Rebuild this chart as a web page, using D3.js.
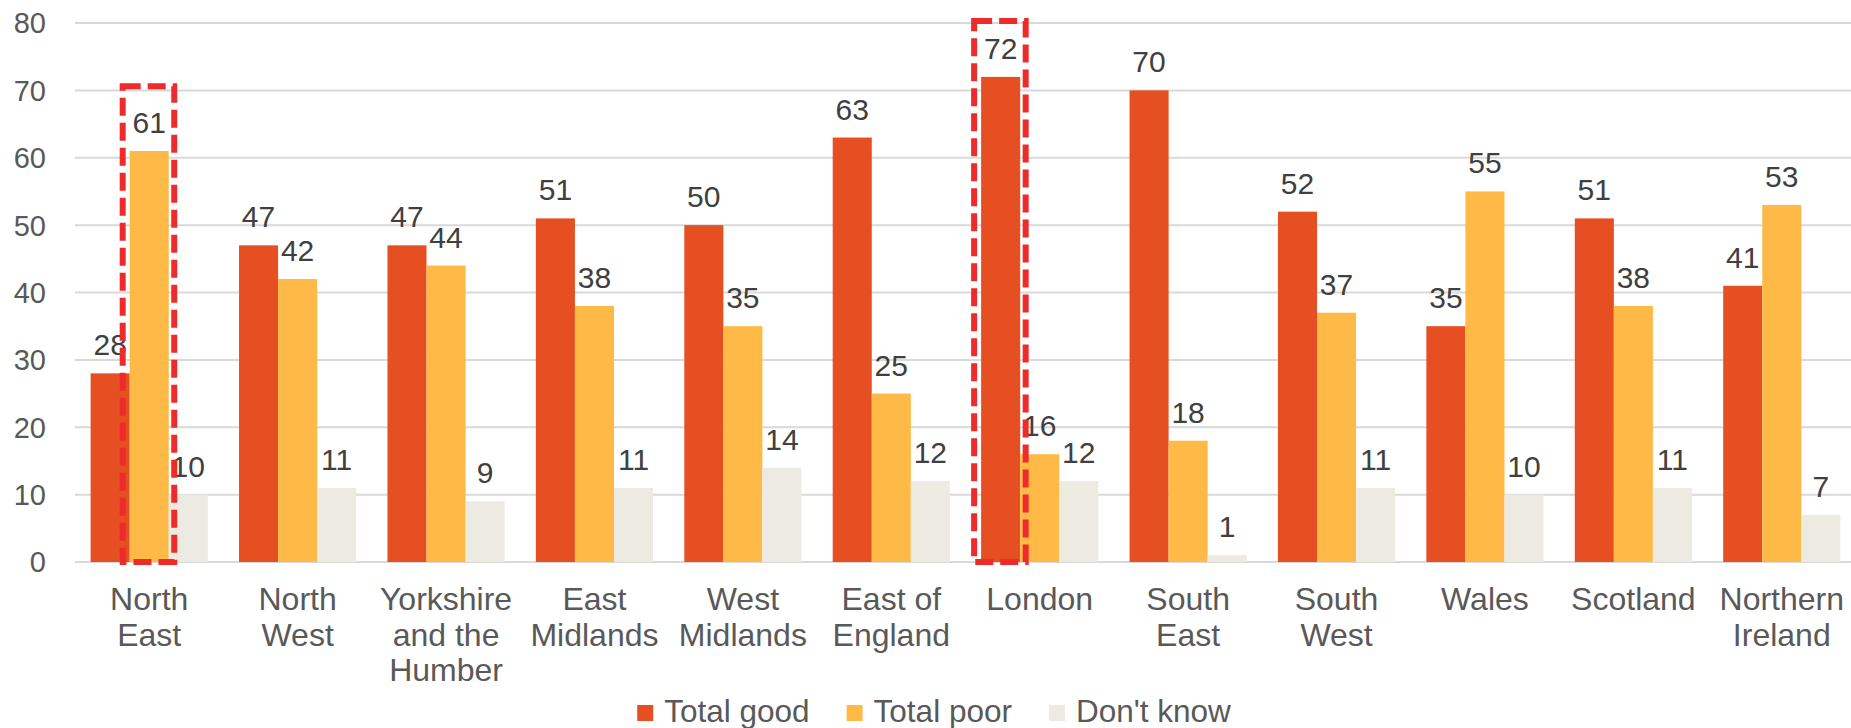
<!DOCTYPE html>
<html>
<head>
<meta charset="utf-8">
<script src="https://cdn.jsdelivr.net/npm/d3@7/dist/d3.min.js"></script>
<style>
  html, body { margin: 0; padding: 0; background: #ffffff; }
  svg { display: block; font-family: "Liberation Sans", Arial, sans-serif; }
</style>
</head>
<body>
<svg id="chart" width="1851" height="728"></svg>
<script>
// Regions (category labels are split into lines)
const regions = ["North East", "North West", "Yorkshire and the Humber", "East Midlands",
  "West Midlands", "East of England", "London", "South East", "South West",
  "Wales", "Scotland", "Northern Ireland"];
const regionLines = [["North", "East"], ["North", "West"], ["Yorkshire", "and the", "Humber"],
  ["East", "Midlands"], ["West", "Midlands"], ["East of", "England"], ["London"],
  ["South", "East"], ["South", "West"], ["Wales"], ["Scotland"], ["Northern", "Ireland"]];

const seriesNames = ["Total good", "Total poor", "Don't know"];
const totalGood = [28, 47, 47, 51, 50, 63, 72, 70, 52, 35, 51, 41];
const totalPoor = [61, 42, 44, 38, 35, 25, 16, 18, 37, 55, 38, 53];
const dontKnow  = [10, 11, 9, 11, 14, 12, 12, 1, 11, 10, 11, 7];
const seriesValues = [totalGood, totalPoor, dontKnow];
const seriesColors = ["#e64f22", "#ffb946", "#edebe1"];

const yTicks = [0, 10, 20, 30, 40, 50, 60, 70, 80];

// Highlighted bars: region, series, and the value at which the dashed frame tops out
const highlightRegion = ["North East", "London"];
const highlightSeries = ["Total poor", "Total good"];
const highlightTop = [70.6, 80.3];

const FONT = "'Liberation Sans', Arial, sans-serif";
const svg = d3.select("#chart");

const x0 = d3.scaleBand().domain(regions).range([75, 1856]).paddingInner(0).paddingOuter(0);
const x1 = d3.scaleBand().domain(seriesNames).range([0, x0.bandwidth()]).paddingInner(0).paddingOuter(0.4);
const y = d3.scaleLinear().domain([0, 80]).range([562, 23]);

// Gridlines
const grid = svg.append("g");
grid.selectAll("line").data(yTicks).join("line")
  .attr("x1", 75).attr("x2", 1851)
  .attr("y1", d => y(d)).attr("y2", d => y(d))
  .attr("stroke", "#d9d9d9").attr("stroke-width", 2);

// Y axis labels
const yAxis = d3.axisLeft(y).tickValues(yTicks).tickSize(0).tickPadding(0);
const yg = svg.append("g").attr("transform", "translate(46,0)").call(yAxis);
yg.select(".domain").remove();
yg.selectAll("text")
  .attr("font-size", 29).attr("fill", "#595959")
  .attr("font-family", FONT)
  .attr("dy", "0.34em");

// Bars
const rows = regions.map((r, i) => ({ region: r, values: seriesNames.map((s, j) => ({ series: s, value: seriesValues[j][i], color: seriesColors[j] })) }));

const groups = svg.append("g").selectAll("g").data(rows).join("g")
  .attr("transform", d => `translate(${x0(d.region)},0)`);

groups.selectAll("rect").data(d => d.values).join("rect")
  .attr("x", d => x1(d.series))
  .attr("width", x1.bandwidth())
  .attr("y", d => y(d.value))
  .attr("height", d => y(0) - y(d.value))
  .attr("fill", d => d.color);

// Value labels
groups.selectAll("text.val").data(d => d.values).join("text")
  .attr("class", "val")
  .attr("x", d => x1(d.series) + x1.bandwidth() / 2)
  .attr("y", d => y(d.value) - 18)
  .attr("text-anchor", "middle")
  .attr("font-family", FONT)
  .attr("font-size", 30)
  .attr("fill", "#404040")
  .text(d => d.value);

// Category labels
const catG = svg.append("g");
regions.forEach((r, i) => {
  const t = catG.append("text")
    .attr("x", x0(r) + x0.bandwidth() / 2)
    .attr("y", 610)
    .attr("text-anchor", "middle")
    .attr("font-family", FONT)
    .attr("font-size", 32)
    .attr("fill", "#595959");
  regionLines[i].forEach((line, k) => {
    t.append("tspan")
      .attr("x", x0(r) + x0.bandwidth() / 2)
      .attr("dy", k === 0 ? 0 : 35.5)
      .text(line);
  });
});

// Dashed highlight frames
const hl = svg.append("g");
highlightRegion.forEach((r, i) => {
  const s = highlightSeries[i];
  const bx = x0(r) + x1(s);
  const left = bx - 7;
  const right = bx + x1.bandwidth() + 5.5;
  const top = y(highlightTop[i]);
  const bottom = y(0);
  hl.append("rect")
    .attr("x", left).attr("y", top)
    .attr("width", right - left).attr("height", bottom - top)
    .attr("fill", "none")
    .attr("stroke", "#ee2b2b")
    .attr("stroke-width", 6)
    .attr("stroke-dasharray", "18,7");
});

// Legend
const legend = svg.append("g");
const legendItems = legend.selectAll("g").data(seriesNames).join("g");
legendItems.append("rect")
  .attr("width", 16).attr("height", 16)
  .attr("y", 705)
  .attr("fill", (d, i) => seriesColors[i]);
legendItems.append("text")
  .attr("x", 27).attr("y", 722)
  .attr("font-family", FONT)
  .attr("font-size", 31.5).attr("fill", "#595959")
  .text(d => d);
let widths = [];
legendItems.each(function() {
  widths.push(27 + d3.select(this).select("text").node().getComputedTextLength());
});
const gap = 37;
const total = d3.sum(widths) + gap * (widths.length - 1);
let cx = 934 - total / 2;
legendItems.each(function(d, i) {
  d3.select(this).attr("transform", `translate(${cx},0)`);
  cx += widths[i] + gap;
});
</script>
</body>
</html>
